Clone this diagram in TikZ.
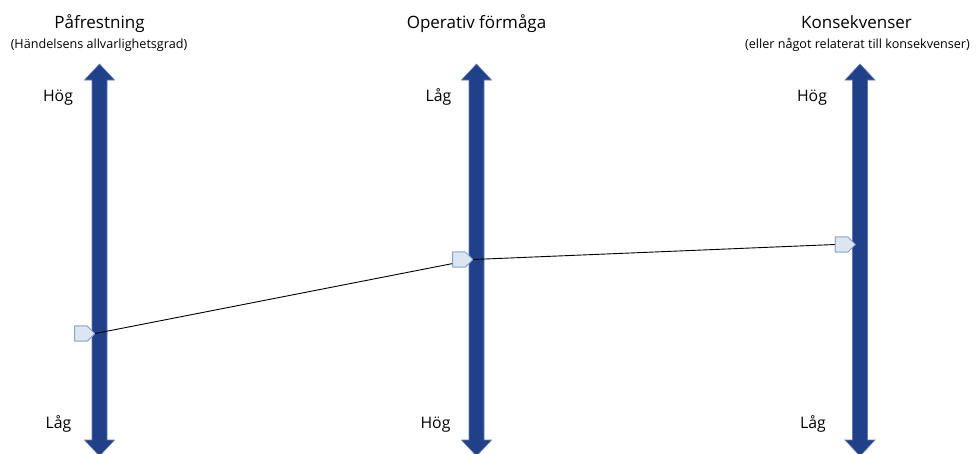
\documentclass[tikz,border=0pt]{standalone}
\usepackage{fontspec}
\setmainfont{Open Sans}
\usetikzlibrary{shapes.symbols}
\definecolor{axisblue}{HTML}{21408A}
\definecolor{markfill}{HTML}{DCE6F1}
\definecolor{markline}{HTML}{7E98C9}
\tikzset{
  axis/.style={fill=axisblue, draw=axisblue!70!white, line width=0.6pt},
  title/.style={font=\fontsize{17}{20}\selectfont, inner sep=0pt, anchor=base},
  subtitle/.style={font=\fontsize{12.6}{15}\selectfont, inner sep=0pt, anchor=base},
  level/.style={font=\fontsize{15.8}{18}\selectfont, inner sep=0pt, anchor=base},
  marker/.style={shape=signal, signal to=east, fill=markfill, draw=markline,
    line width=0.7pt, minimum width=20pt, minimum height=15pt, inner sep=0pt},
  link/.style={draw=black, line width=0.9pt}
}
% vertical double-headed arrow centred on x = #1
\newcommand{\scaleaxis}[1]{%
  \path[axis] (#1-7.5,80) -- (#1-15,80) -- (#1,64) -- (#1+15,80) -- (#1+7.5,80)
    -- (#1+7.5,440) -- (#1+15,440) -- (#1,456) -- (#1-15,440) -- (#1-7.5,440) -- cycle;}
\begin{document}
\begin{tikzpicture}[x=1pt,y=-1pt]
  \useasboundingbox (0,0) rectangle (979,453);
  % axes
  \scaleaxis{99.5}
  \scaleaxis{476.5}
  \scaleaxis{860}
  % headings
  \node[title] (tA) at (99.5,28) {Påfrestning};
  \node[subtitle] (sA) at (99,48) {(Händelsens allvarlighetsgrad)};
  \node[title] (tB) at (476.5,28) {Operativ förmåga};
  \node[title] (tC) at (856.5,28) {Konsekvenser};
  \node[subtitle] (sC) at (857.5,48) {(eller något relaterat till konsekvenser)};
  % scale ends
  \node[level] (hA) at (58,101.5) {Hög};
  \node[level] (lA) at (58.5,428) {Låg};
  \node[level] (lB) at (438.5,101) {Låg};
  \node[level] (hB) at (435.5,428) {Hög};
  \node[level] (hC) at (812,101) {Hög};
  \node[level] (lC) at (813,428) {Låg};
  % markers on each scale
  \node[marker] (mA) at (81,333.5) {};
  \node[marker] (mB) at (459,259.5) {};
  \node[marker] (mC) at (841.5,244.5) {};
  % connecting line
  \draw[link] (mA.east) -- (mB.east) -- (mC.west);
  \node[marker] at (mA) {};
  \node[marker] at (mB) {};
  \node[marker] at (mC) {};
\end{tikzpicture}
\end{document}
